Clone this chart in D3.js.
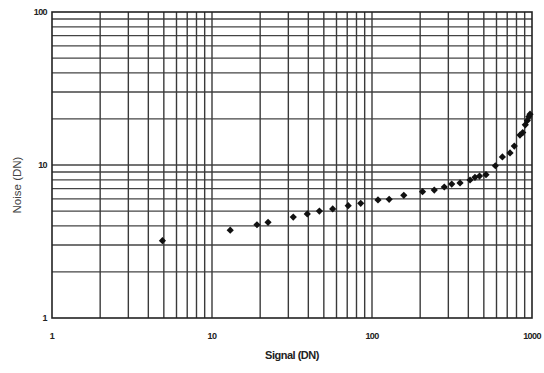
<!DOCTYPE html>
<html lang="en">
<head>
	<meta charset="UTF-8">
	<title>Noise vs Signal</title>
	<script src="https://cdn.jsdelivr.net/npm/d3@7"></script>
	<style>
		body { margin: 0; background: #fff; }
		text { font-family: "Liberation Sans", Arial, sans-serif; fill: #222; }
	</style>
</head>
<body>
	<div id="container"></div>
	<script>
		var width = 544, height = 373;

		// values
		var signal = [4.9, 13, 19.1, 22.4, 32.2, 39.4, 46.9, 56.8, 71, 85, 109, 128, 158, 207, 245, 283, 315, 355, 410, 440, 470, 516, 590, 653, 729, 775, 841, 875, 908, 935, 955, 972];
		var noise  = [3.2, 3.75, 4.07, 4.22, 4.57, 4.79, 5.0, 5.16, 5.42, 5.62, 5.91, 5.97, 6.34, 6.69, 6.86, 7.18, 7.51, 7.63, 7.98, 8.31, 8.47, 8.65, 9.89, 11.3, 12.0, 13.3, 15.7, 16.3, 18.3, 19.5, 20.7, 21.5];
		var xTicks = [1, 10, 100, 1000];
		var yTicks = [1, 10, 100];

		// plot box (note: "top" is taken by window.top)
		var pLeft = 52, pRight = 532, pTop = 12, pBottom = 318;

		var svg = d3.select("#container").append("svg")
				.attr("width", width)
				.attr("height", height);

		var x = d3.scaleLog().domain([1, 1000]).range([pLeft, pRight]);
		var y = d3.scaleLog().domain([1, 100]).range([pBottom, pTop]);

		// minor + major grid values (1..9 in every decade)
		var xGrid = x.ticks().filter(d => d > 1 && d < 1000);
		var yGrid = y.ticks().filter(d => d > 1 && d < 100);

		svg.selectAll(".hgrid").data(yGrid)
			.enter().append("line")
				.attr("x1", pLeft).attr("x2", pRight)
				.attr("y1", d => y(d)).attr("y2", d => y(d))
				.style("stroke", "#444")
				.style("stroke-width", 1.3);

		svg.selectAll(".vgrid").data(xGrid)
			.enter().append("line")
				.attr("y1", pTop).attr("y2", pBottom)
				.attr("x1", d => x(d)).attr("x2", d => x(d))
				.style("stroke", "#3a3a3a")
				.style("stroke-width", 1.4);

		svg.append("rect")
				.attr("x", pLeft).attr("y", pTop)
				.attr("width", pRight - pLeft).attr("height", pBottom - pTop)
				.attr("fill", "none")
				.style("stroke", "#222")
				.style("stroke-width", 1.6);

		// axis labels
		svg.selectAll(".xlab").data(xTicks)
			.enter().append("text")
				.attr("x", d => x(d))
				.attr("y", pBottom + 21)
				.attr("text-anchor", "middle")
				.style("font-size", "9px")
				.style("font-weight", "bold")
				.style("letter-spacing", "-0.6px")
				.text(d => d);

		svg.selectAll(".ylab").data(yTicks)
			.enter().append("text")
				.attr("x", pLeft - 5)
				.attr("y", d => y(d) + 3)
				.attr("text-anchor", "end")
				.style("font-size", "9px")
				.style("font-weight", "bold")
				.style("letter-spacing", "-0.6px")
				.text(d => d);

		svg.append("text")
				.attr("x", (pLeft + pRight) / 2)
				.attr("y", 359)
				.attr("text-anchor", "middle")
				.style("font-size", "11px")
				.style("font-weight", "bold")
				.style("letter-spacing", "-0.5px")
				.text("Signal (DN)");

		svg.append("text")
				.attr("transform", "translate(21," + 185 + ") rotate(-90)")
				.attr("text-anchor", "middle")
				.style("font-size", "11.5px")
				.style("fill", "#444")
				.text("Noise (DN)");

		// markers: squares turned 45 degrees
		var points = signal.map((s, i) => [s, noise[i]]);
		svg.selectAll(".pt").data(points)
			.enter().append("path")
				.attr("d", d3.symbol().type(d3.symbolSquare).size(26))
				.attr("transform", d => "translate(" + x(d[0]) + "," + y(d[1]) + ") rotate(45)")
				.attr("fill", "#111");
	</script>
</body>
</html>
